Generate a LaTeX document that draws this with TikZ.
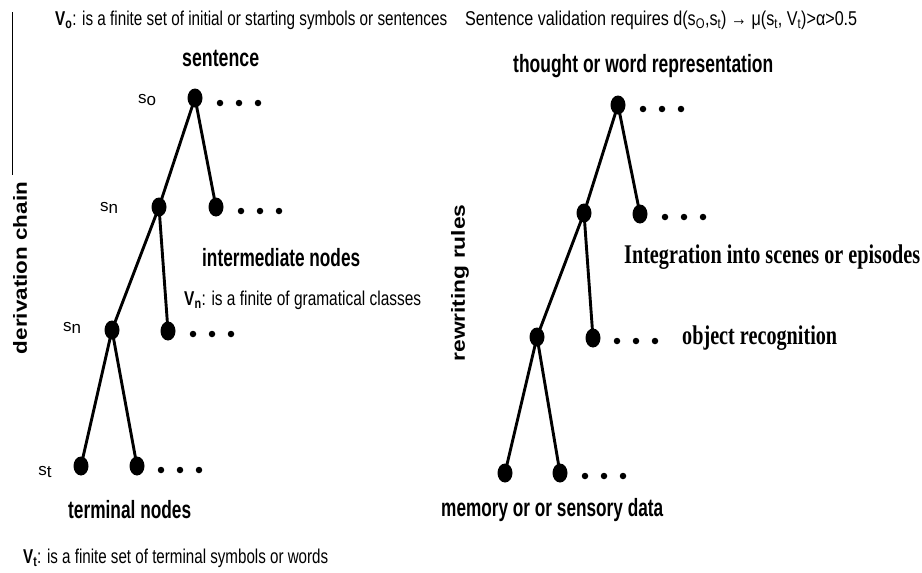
\documentclass[tikz,border=0pt]{standalone}
\usepackage{fontspec}
\usepackage{graphicx}
\setmainfont{Liberation Sans}
\newfontfamily\timesfont{Liberation Serif}
\usetikzlibrary{shapes.geometric}
% squeeze a text horizontally to a given width, keeping its height
\newcommand\fitw[2]{\resizebox{#1}{\height}{#2}}
% trailing "..." after a node: name prefix, x of first dot, y
\newcommand\trail[3]{%
  \foreach \k/\dx in {1/0,2/19,3/38}{\node[smalldot] (#1\k) at (#2+\dx,#3) {};}}
\begin{document}
\begin{tikzpicture}[x=1pt,y=-1pt,
  bignode/.style={ellipse, fill=black, minimum width=15pt, minimum height=19pt, inner sep=0pt},
  smalldot/.style={circle, fill=black, minimum size=6.5pt, inner sep=0pt},
  branch/.style={line width=2.9pt},
  head/.style={font=\bfseries\fontsize{25}{27}\selectfont, inner sep=0pt, anchor=west},
  note/.style={font=\fontsize{20}{22}\selectfont, inner sep=0pt, anchor=west},
  ann/.style={font=\timesfont\bfseries\fontsize{27}{29}\selectfont, inner sep=0pt, anchor=west},
  sym/.style={font=\fontsize{17}{19}\selectfont, inner sep=0pt},
  side/.style={font=\bfseries\fontsize{19}{21}\selectfont, inner sep=0pt, rotate=90}]
\useasboundingbox (0,0) rectangle (922,573);

% left margin rule
\draw[line width=0.8pt] (12,12) -- (12,175);

% ---------- left tree: derivation ----------
\node[bignode] (L0) at (195,98) {};
\node[bignode] (L1a) at (159,207) {};
\node[bignode] (L1b) at (216,207) {};
\node[bignode] (L2a) at (112,330) {};
\node[bignode] (L2b) at (168,331) {};
\node[bignode] (L3a) at (81,466) {};
\node[bignode] (L3b) at (137,466) {};
\trail{Ld0}{220}{103}
\trail{Ld1}{241}{211}
\trail{Ld2}{193}{334}
\trail{Ld3}{161}{470}
\draw[branch] (L0.center) -- (L1a.center);
\draw[branch] (L0.center) -- (L1b.center);
\draw[branch] (L1a.center) -- (L2a.center);
\draw[branch] (L1a.center) -- (L2b.center);
\draw[branch] (L2a.center) -- (L3a.center);
\draw[branch] (L2a.center) -- (L3b.center);

\node[sym] (s0) at (147,100) {s\raisebox{-1.5pt}{o}};
\node[sym] (sn1) at (109,208) {s\raisebox{-1.5pt}{n}};
\node[sym] (sn2) at (72,328) {s\raisebox{-1.5pt}{n}};
\node[sym] (st) at (45,472) {s\raisebox{-1.5pt}{t}};

\node[note] (Vo) at (55,20) {\fitw{392pt}{\textbf{V\textsubscript{o}}: is a finite set of initial or starting symbols or sentences}};
\node[head] (sent) at (182,58) {\fitw{77pt}{sentence}};
\node[head] (inter) at (202,258) {\fitw{158pt}{intermediate nodes}};
\node[note] (Vn) at (184,300) {\fitw{237pt}{\textbf{V\textsubscript{n}}: is a finite of gramatical classes}};
\node[head] (term) at (68,510) {\fitw{123pt}{terminal nodes}};
\node[note] (Vt) at (23,558) {\fitw{305pt}{\textbf{V\textsubscript{t}}: is a finite set of terminal symbols or words}};
\node[side] (deriv) at (20,268) {\fitw{172pt}{derivation chain}};

% ---------- right tree: rewriting ----------
\node[bignode] (R0) at (618,105) {};
\node[bignode] (R1a) at (584,213) {};
\node[bignode] (R1b) at (640,214) {};
\node[bignode] (R2a) at (537,337) {};
\node[bignode] (R2b) at (593,338) {};
\node[bignode] (R3a) at (505,473) {};
\node[bignode] (R3b) at (560,473) {};
\trail{Rd0}{643}{109}
\trail{Rd1}{665}{217}
\trail{Rd2}{617}{341}
\trail{Rd3}{585}{476}
\draw[branch] (R0.center) -- (R1a.center);
\draw[branch] (R0.center) -- (R1b.center);
\draw[branch] (R1a.center) -- (R2a.center);
\draw[branch] (R1a.center) -- (R2b.center);
\draw[branch] (R2a.center) -- (R3a.center);
\draw[branch] (R2a.center) -- (R3b.center);

\node[note] (valid) at (465,20) {\fitw{392pt}{Sentence validation requires d(s\textsubscript{O},s\textsubscript{t}) → μ(s\textsubscript{t}, V\textsubscript{t})>α>0.5}};
\node[head] (thought) at (513,66) {\fitw{260pt}{thought or word representation}};
\node[ann] (integ) at (624,257) {\fitw{296pt}{Integration into scenes or episodes}};
\node[ann] (objrec) at (682,338) {\fitw{155pt}{object recognition}};
\node[head] (memory) at (441,510) {\fitw{222pt}{memory or or sensory data}};
\node[side] (rewr) at (460,283) {\fitw{157pt}{rewriting rules}};
\end{tikzpicture}
\end{document}
